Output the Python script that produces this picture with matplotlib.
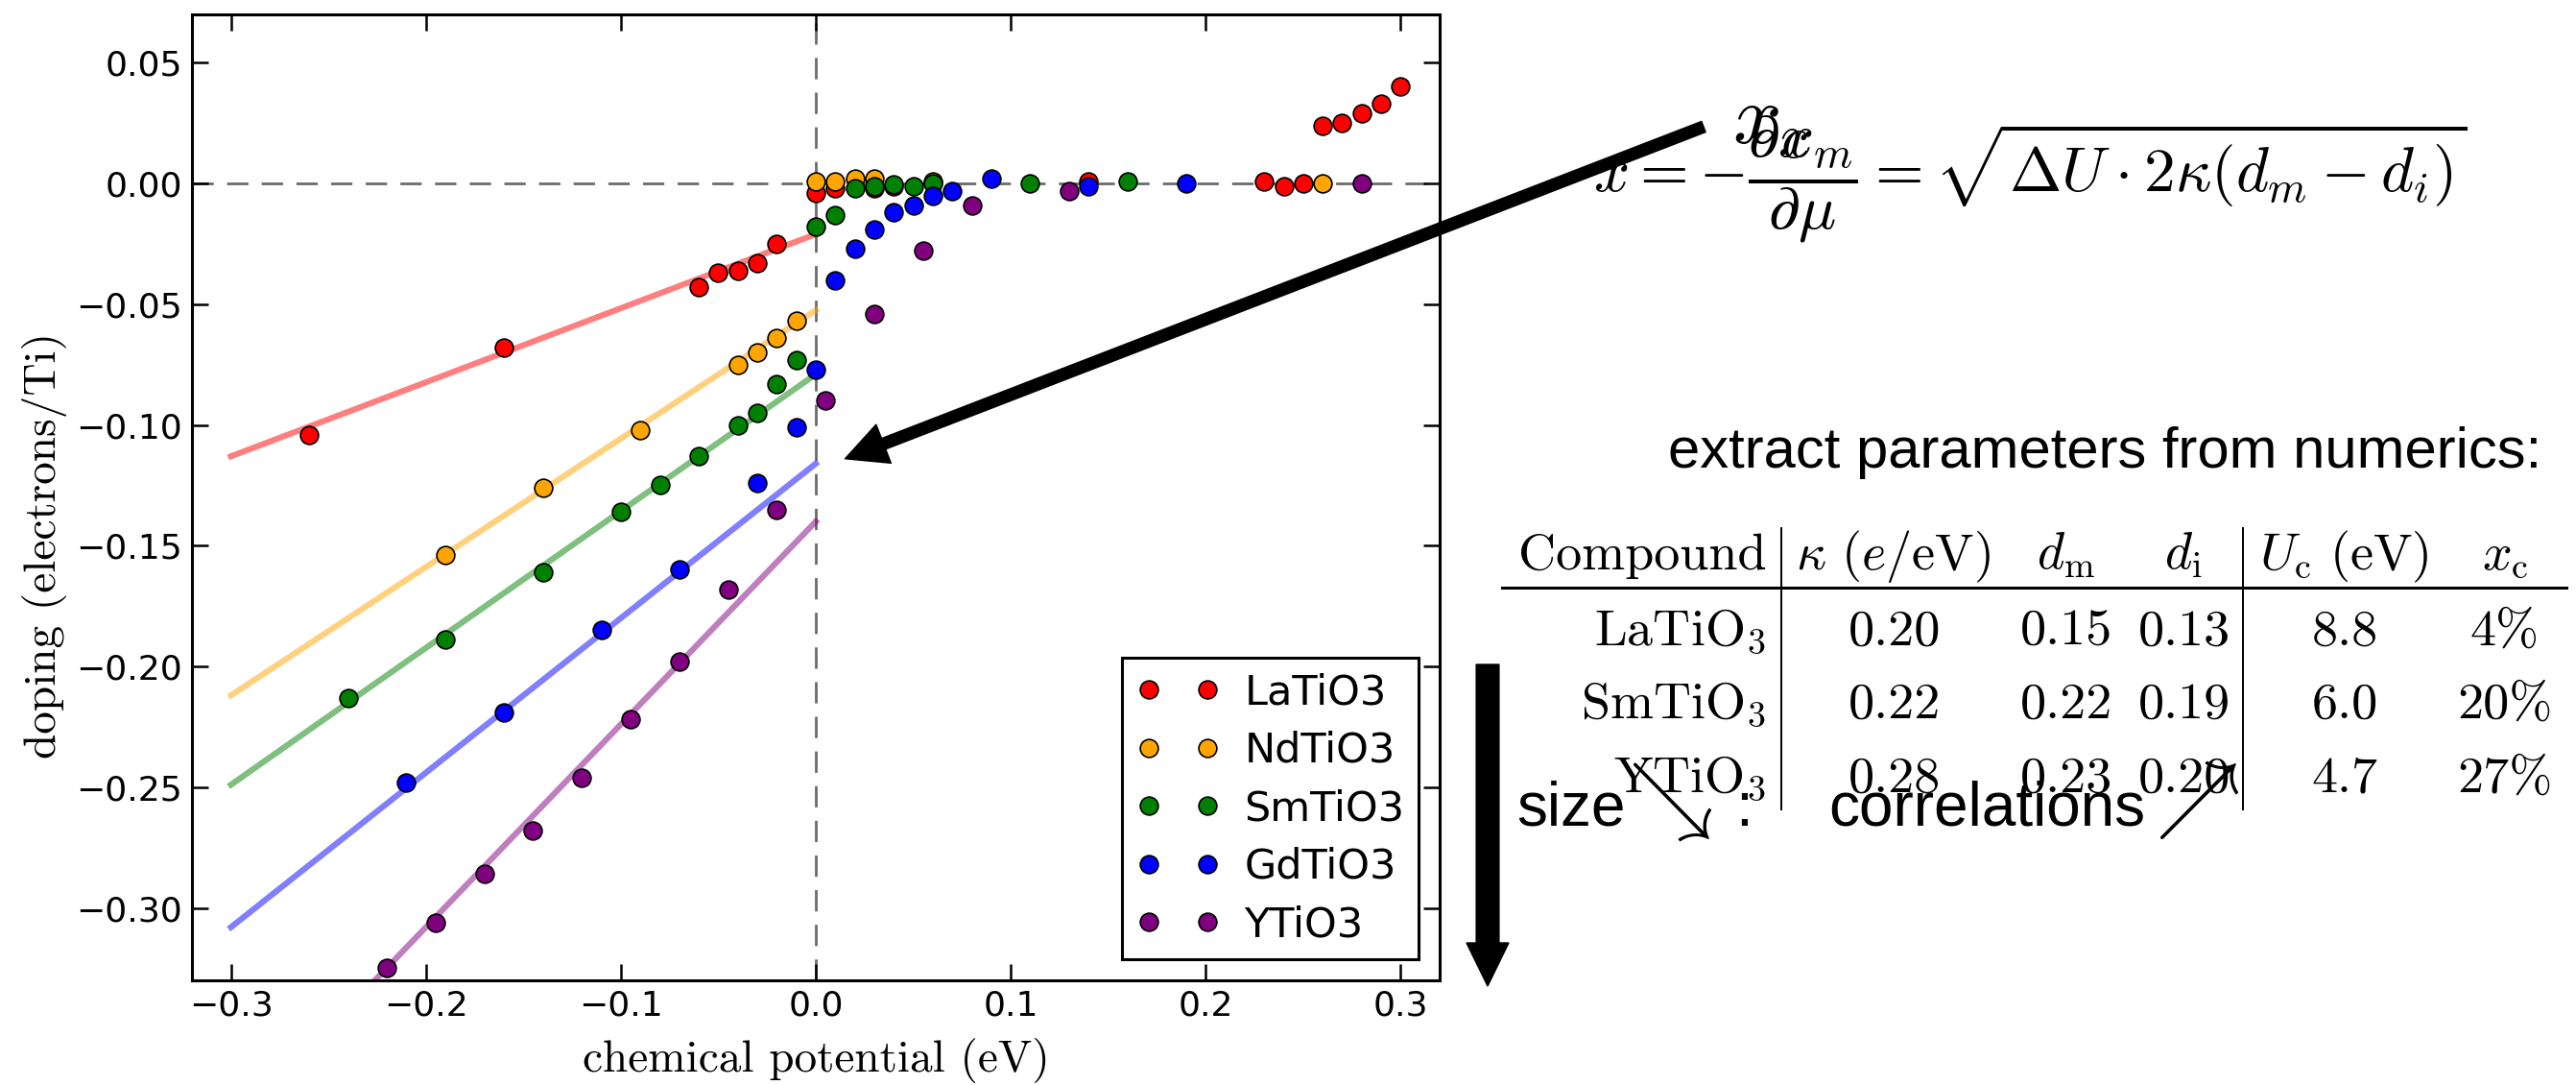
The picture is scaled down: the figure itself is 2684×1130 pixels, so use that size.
import numpy as np
import matplotlib
matplotlib.use('Agg')
import matplotlib.pyplot as plt

plt.rcParams['mathtext.fontset'] = 'cm'

# doping vs chemical potential
la_mu = [-0.26, -0.16, -0.06, -0.05, -0.04, -0.03, -0.02, 0.0, 0.01, 0.03, 0.04,
         0.14, 0.23, 0.24, 0.25, 0.26, 0.27, 0.28, 0.29, 0.30]
la_dop = [-0.104, -0.068, -0.043, -0.037, -0.036, -0.033, -0.025, -0.004, -0.002, -0.002, -0.001,
          0.001, 0.001, -0.001, 0.0, 0.024, 0.025, 0.029, 0.033, 0.040]

nd_mu = [-0.19, -0.14, -0.09, -0.04, -0.03, -0.02, -0.01, 0.0, 0.01, 0.02, 0.03, 0.06, 0.26]
nd_dop = [-0.154, -0.126, -0.102, -0.075, -0.070, -0.064, -0.057, 0.001, 0.001, 0.002, 0.002, 0.001, 0.0]

sm_mu = [-0.24, -0.19, -0.14, -0.10, -0.08, -0.06, -0.04, -0.03, -0.02, -0.01, 0.0, 0.01,
         0.02, 0.03, 0.04, 0.05, 0.06, 0.11, 0.16]
sm_dop = [-0.213, -0.189, -0.161, -0.136, -0.125, -0.113, -0.100, -0.095, -0.083, -0.073, -0.018, -0.013,
          -0.002, -0.001, -0.0005, -0.001, 0.0, 0.0, 0.001]

gd_mu = [-0.21, -0.16, -0.11, -0.07, -0.03, -0.01, 0.0, 0.01, 0.02, 0.03, 0.04, 0.05, 0.06,
         0.07, 0.09, 0.14, 0.19]
gd_dop = [-0.248, -0.219, -0.185, -0.160, -0.124, -0.101, -0.077, -0.040, -0.027, -0.019, -0.012, -0.009, -0.005,
          -0.003, 0.002, -0.001, 0.0]

y_mu = [-0.22, -0.195, -0.17, -0.145, -0.12, -0.095, -0.07, -0.045, -0.02, 0.005, 0.03, 0.055,
        0.08, 0.13, 0.28]
y_dop = [-0.325, -0.306, -0.286, -0.268, -0.246, -0.222, -0.198, -0.168, -0.135, -0.090, -0.054, -0.028,
         -0.009, -0.003, 0.0]

# linear fits (end points at mu = -0.3 and 0)
fit_mu = [-0.3, 0.0]
la_fit = [-0.113, -0.021]
nd_fit = [-0.212, -0.0525]
sm_fit = [-0.249, -0.079]
gd_fit = [-0.308, -0.116]
y_fit = [-0.392, -0.140]

names = ['LaTiO3', 'NdTiO3', 'SmTiO3', 'GdTiO3', 'YTiO3']
colors = ['red', 'orange', 'green', 'blue', 'purple']

# table
tab_names = [r'$\mathrm{LaTiO_3}$', r'$\mathrm{SmTiO_3}$', r'$\mathrm{YTiO_3}$']
tab_kappa = ['0.20', '0.22', '0.28']
tab_dm = ['0.15', '0.22', '0.23']
tab_di = ['0.13', '0.19', '0.20']
tab_uc = ['8.8', '6.0', '4.7']
tab_xc = ['4%', '20%', '27%']

W, H = 2684, 1130
def fx(px):
    return px / W
def fy(py):
    return 1 - py / H

fig = plt.figure(figsize=(W / 100, H / 100), dpi=100)
ax = fig.add_axes([fx(200), fy(1021), 1300 / W, 1006 / H])

mus = [la_mu, nd_mu, sm_mu, gd_mu, y_mu]
dops = [la_dop, nd_dop, sm_dop, gd_dop, y_dop]
fits = [la_fit, nd_fit, sm_fit, gd_fit, y_fit]

ax.axhline(0, color='0.42', ls='--', lw=2, dashes=(8, 5), zorder=1)
ax.axvline(0, color='0.42', ls='--', lw=2, dashes=(8, 5), zorder=1)

for i in range(len(names)):
    ax.plot(fit_mu, fits[i], color=colors[i], alpha=0.5, lw=4.5, zorder=2)
for i in range(len(names)):
    ax.plot(mus[i], dops[i], 'o', color=colors[i], ms=13.5, mec='k', mew=1.2,
            label=names[i], zorder=3)

ax.set_xlim(-0.32, 0.32)
ax.set_ylim(-0.33, 0.07)
ax.set_xticks(np.arange(-0.3, 0.31, 0.1))
ax.set_yticks(np.arange(-0.30, 0.051, 0.05))
ax.tick_params(direction='in', length=12, width=1.8, labelsize=26, pad=7,
               top=True, right=True)
for s in ax.spines.values():
    s.set_linewidth(2.2)

ax.set_xlabel('chemical potential (eV)', fontfamily='cmr10', fontsize=34)
ax.set_ylabel('doping (electrons/Ti)', fontfamily='cmr10', fontsize=34)
ax.xaxis.set_label_coords(0.5, -0.06)
ax.yaxis.set_label_coords(-0.1, 0.45)

leg = ax.legend(loc='lower right', numpoints=2, fontsize=31, handlelength=2.0,
                handletextpad=0.6, borderpad=0.35, labelspacing=0.43,
                borderaxespad=0.5, fancybox=False, framealpha=1)
leg.get_frame().set_edgecolor('k')
leg.get_frame().set_linewidth(2.2)

# big arrow from the formula into the plot
ax.annotate('', xy=(0.015, -0.114), xycoords='data',
            xytext=(fx(1775), fy(132)), textcoords='figure fraction',
            arrowprops=dict(facecolor='k', edgecolor='k', width=8.6,
                            headwidth=31, headlength=31, shrink=0),
            annotation_clip=False)
fig.text(fx(1805), fy(150), r'$x_c$', fontsize=64, va='baseline')

fig.text(fx(2115), fy(187),
         r'$x=-\dfrac{\partial x_m}{\partial\mu}=\sqrt{\Delta U\cdot 2\kappa(d_m-d_i)}$',
         fontsize=47, ha='center', va='center')

fig.text(fx(1738), fy(487), 'extract parameters from numerics:',
         fontfamily='Liberation Sans', fontsize=43, va='baseline')

# table
hdr_y = fy(593)
row_y = [fy(672), fy(748), fy(825)]
tfs = 39
fig.text(fx(1840), hdr_y, 'Compound', fontfamily='cmr10', fontsize=tfs, ha='right', va='baseline')
fig.text(fx(1972), hdr_y, r'$\kappa\ (e/\mathrm{eV})$', fontsize=tfs, ha='center', va='baseline')
fig.text(fx(2153), hdr_y, r'$d_\mathrm{m}$', fontsize=tfs, ha='center', va='baseline')
fig.text(fx(2275), hdr_y, r'$d_\mathrm{i}$', fontsize=tfs, ha='center', va='baseline')
fig.text(fx(2442), hdr_y, r'$U_\mathrm{c}\ (\mathrm{eV})$', fontsize=tfs, ha='center', va='baseline')
fig.text(fx(2610), hdr_y, r'$x_\mathrm{c}$', fontsize=tfs, ha='center', va='baseline')
for r in range(3):
    fig.text(fx(1840), row_y[r], tab_names[r], fontsize=tfs, ha='right', va='baseline')
    fig.text(fx(1974), row_y[r], tab_kappa[r], fontfamily='cmr10', fontsize=tfs, ha='center', va='baseline')
    fig.text(fx(2153), row_y[r], tab_dm[r], fontfamily='cmr10', fontsize=tfs, ha='center', va='baseline')
    fig.text(fx(2276), row_y[r], tab_di[r], fontfamily='cmr10', fontsize=tfs, ha='center', va='baseline')
    fig.text(fx(2443), row_y[r], tab_uc[r], fontfamily='cmr10', fontsize=tfs, ha='center', va='baseline')
    fig.text(fx(2610), row_y[r], tab_xc[r], fontfamily='cmr10', fontsize=tfs, ha='center', va='baseline')

fig.add_artist(plt.Line2D([fx(1565), fx(2674)], [fy(612), fy(612)], color='k', lw=2.2))
fig.add_artist(plt.Line2D([fx(1856), fx(1856)], [fy(550), fy(843)], color='k', lw=1.4))
fig.add_artist(plt.Line2D([fx(2337), fx(2337)], [fy(550), fy(843)], color='k', lw=1.4))

# size / correlations
fig.text(fx(1580), fy(860), 'size', fontfamily='Liberation Sans', fontsize=46, va='baseline')
fig.text(fx(1733), fy(835), r'$\searrow$', fontsize=64, ha='center', va='center')
fig.text(fx(1808), fy(860), ':', fontfamily='Liberation Sans', fontsize=46, va='baseline')
fig.text(fx(1905), fy(860), 'correlations', fontfamily='Liberation Sans', fontsize=46, va='baseline')
fig.text(fx(2282), fy(832), r'$\nearrow$', fontsize=64, ha='center', va='center')

fig.add_artist(matplotlib.patches.FancyArrow(fx(1550), fy(692), 0, fy(1027) - fy(692),
               width=10 / H, head_width=44 / W, head_length=45 / H,
               length_includes_head=True, color='k', transform=fig.transFigure))

plt.savefig('out.png', dpi=100)
plt.close()
